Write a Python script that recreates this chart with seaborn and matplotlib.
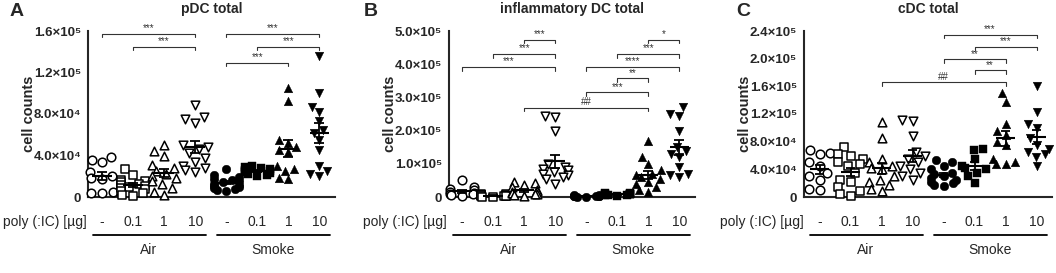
import warnings

import matplotlib

matplotlib.use("Agg")
import matplotlib.pyplot as plt
import matplotlib.transforms as mtransforms
import numpy as np
import pandas as pd
import seaborn as sns

warnings.filterwarnings("ignore")

DOSES = ["-", "0.1", "1", "10"]
EXPOSURES = ["Air", "Smoke"]
GROUPS = [f"{e} {d}" for e in EXPOSURES for d in DOSES]
MARKERS = ["o", "s", "^", "v", "o", "s", "^", "v"]
FILLED = [False, False, False, False, True, True, True, True]

# pDC total (cell counts), one list per group: Air -/0.1/1/10, Smoke -/0.1/1/10
PDC_VALUES = [
    [39000, 36000, 34000, 24000, 20000, 18000, 17000, 5000, 4000, 4000],
    [27000, 21000, 16000, 15000, 14000, 13000, 12000, 11000, 10000, 9000, 8000, 6000, 4000, 2000, 1000],
    [50000, 44000, 40000, 31000, 28000, 25000, 22000, 20000, 18000, 15000, 13000, 9000, 5000, 2000],
    [89000, 77000, 75000, 71000, 50000, 48000, 46000, 42000, 38000, 34000, 30000, 28000, 26000, 24000],
    [27000, 21000, 19000, 17000, 16000, 15000, 14000, 13000, 12000, 11000, 10000, 9000, 8000, 7000, 6000],
    [30000, 29000, 28000, 27000, 26000, 25000, 25000, 24000, 23000, 22000, 21000, 20000],
    [105000, 93000, 55000, 52000, 48000, 45000, 43000, 30000, 27000, 25000, 18000, 17000],
    [136000, 100000, 87000, 82000, 73000, 65000, 62000, 55000, 45000, 30000, 25000, 22000, 20000],
]

# inflammatory DC total
IDC_VALUES = [
    [50000, 30000, 25000, 20000, 15000, 12000, 10000, 8000, 5000, 3000],
    [9000, 8000, 7000, 6000, 5000, 5000, 4000, 3000, 2000, 2000, 1000, 500],
    [45000, 42000, 35000, 30000, 22000, 18000, 15000, 12000, 10000, 8000, 6000, 4000],
    [245000, 240000, 200000, 100000, 90000, 85000, 80000, 75000, 70000, 65000, 60000, 55000, 40000],
    [6000, 5000, 4000, 3000, 3000, 2000, 2000, 1000, 1000],
    [12000, 11000, 10000, 9000, 8000, 8000, 7000, 6000, 5000, 4000],
    [170000, 120000, 100000, 80000, 70000, 65000, 60000, 55000, 45000, 40000, 30000, 20000, 15000],
    [270000, 250000, 245000, 200000, 150000, 140000, 130000, 120000, 90000, 70000, 65000, 60000],
]

# cDC total
CDC_VALUES = [
    [68000, 64000, 62000, 50000, 45000, 35000, 30000, 25000, 12000, 10000],
    [72000, 62000, 60000, 55000, 50000, 48000, 45000, 35000, 25000, 22000, 15000, 8000, 5000, 2000],
    [108000, 85000, 55000, 50000, 45000, 42000, 40000, 30000, 25000, 22000, 18000, 12000, 8000],
    [112000, 110000, 88000, 65000, 60000, 55000, 50000, 45000, 40000, 35000, 30000, 25000],
    [53000, 50000, 45000, 40000, 35000, 33000, 30000, 28000, 25000, 22000, 20000, 18000, 16000],
    [70000, 68000, 55000, 45000, 42000, 40000, 35000, 30000, 20000],
    [150000, 138000, 105000, 95000, 90000, 80000, 75000, 55000, 50000, 48000, 48000],
    [160000, 123000, 105000, 100000, 85000, 75000, 70000, 65000, 62000, 58000, 45000],
]

PDC_TICKS = [0, 40000, 80000, 120000, 160000]
PDC_TICKLABELS = ["0", "4.0×10⁴", "8.0×10⁴", "1.2×10⁵", "1.6×10⁵"]
IDC_TICKS = [0, 100000, 200000, 300000, 400000, 500000]
IDC_TICKLABELS = ["0", "1.0×10⁵", "2.0×10⁵", "3.0×10⁵", "4.0×10⁵", "5.0×10⁵"]
CDC_TICKS = [0, 40000, 80000, 120000, 160000, 200000, 240000]
CDC_TICKLABELS = ["0", "4.0×10⁴", "8.0×10⁴", "1.2×10⁵", "1.6×10⁵", "2.0×10⁵", "2.4×10⁵"]

# significance brackets: (group from, group to, height, label)
PDC_SIG = [(0, 3, 157000, "***"), (1, 3, 145000, "***"),
           (4, 7, 157000, "***"), (5, 7, 145000, "***"), (4, 6, 129000, "***")]
IDC_SIG = [(2, 3, 473000, "***"), (1, 3, 430000, "***"), (0, 3, 391000, "***"),
           (6, 7, 473000, "*"), (5, 7, 430000, "***"), (4, 7, 391000, "****"),
           (5, 6, 357000, "**"), (4, 6, 315000, "***"), (2, 6, 269000, "##")]
CDC_SIG = [(4, 7, 234000, "***"), (5, 7, 217000, "***"), (4, 6, 199000, "**"),
           (5, 6, 183000, "**"), (2, 6, 166000, "##")]

FIG_W, FIG_H = 1056, 273
AX_TOP, AX_BOTTOM = 31, 197


def draw_panel(fig, left_px, right_px, x_left, values, ticks, ticklabels, sig, title, letter, letter_x):
    ax_h = AX_BOTTOM - AX_TOP
    ax_w = right_px - left_px
    ax = fig.add_axes([left_px / FIG_W, 1 - AX_BOTTOM / FIG_H,
                       ax_w / FIG_W, ax_h / FIG_H])

    df = pd.DataFrame({
        "group": [g for g, v in zip(GROUPS, values) for _ in v],
        "count": [x for v in values for x in v],
    })

    for i, g in enumerate(GROUPS):
        sub = df[df["group"] == g]
        n_before = len(ax.collections)
        if FILLED[i]:
            sns.swarmplot(data=sub, x="group", y="count", order=GROUPS, ax=ax,
                          marker=MARKERS[i], size=6.2, color="black",
                          edgecolor="black", linewidth=0.3)
        else:
            sns.swarmplot(data=sub, x="group", y="count", order=GROUPS, ax=ax,
                          marker=MARKERS[i], size=6.2, color="white",
                          edgecolor="black", linewidth=1.1)
        for coll in ax.collections[n_before:]:
            if not FILLED[i]:
                coll.set_facecolor("white")
                coll.set_edgecolor("black")
                coll.set_linewidth(1.1)
            coll.set_clip_on(False)
            coll.set_zorder(3)

        v = np.array(values[i], dtype=float)
        m = v.mean()
        sem = v.std(ddof=1) / np.sqrt(len(v))
        ax.hlines(m, i - 0.32, i + 0.32, color="black", lw=1.5, zorder=5)
        ax.vlines(i, m - sem, m + sem, color="black", lw=1.3, zorder=5)
        ax.hlines([m - sem, m + sem], i - 0.16, i + 0.16, color="black", lw=1.3, zorder=5)

    ymax = ticks[-1]
    tick_d = ymax * 0.02
    for a, b, y, label in sig:
        ax.plot([a, a, b, b], [y - tick_d, y, y, y - tick_d], color="#333333",
                lw=0.8, clip_on=False, zorder=4)
        ax.text((a + b) / 2, y + ymax * 0.004, label, ha="center", va="bottom",
                fontsize=7, color="#333333")

    ax.set_xlim(x_left, 7.5)
    ax.set_ylim(0, ymax)
    ax.set_yticks(ticks)
    ax.set_yticklabels(ticklabels, fontweight="bold", fontsize=9.5)
    ax.set_xticks(range(len(GROUPS)))
    ax.set_xticklabels(DOSES * 2, fontsize=10)
    ax.set_xlabel("")
    ax.set_ylabel("cell counts", fontweight="bold", fontsize=10.5)
    ax.yaxis.set_label_coords(-52 / ax_w, 0.5)
    ax.tick_params(axis="x", length=3, width=1.2, pad=10)
    ax.tick_params(axis="y", length=3, width=1.2, pad=2)
    sns.despine(ax=ax)
    for side in ["left", "bottom"]:
        ax.spines[side].set_linewidth(1.5)

    trans = mtransforms.blended_transform_factory(ax.transData, ax.transAxes)
    ax.text(-0.5, -25 / ax_h, "poly (:IC) [µg]", transform=trans, ha="right",
            va="center", fontsize=10)
    for k, name in enumerate(EXPOSURES):
        x0, x1 = 4 * k - 0.3, 4 * k + 3.35
        ax.plot([x0, x1], [-38 / ax_h] * 2, transform=trans, color="black",
                lw=1.3, clip_on=False)
        ax.text(4 * k + 1.5, -53 / ax_h, name, transform=trans, ha="center",
                va="center", fontsize=10)

    ax.text(0.5, 1 + 22 / ax_h, title, transform=ax.transAxes, ha="center",
            va="center", fontsize=10, fontweight="bold")
    fig.text(letter_x / FIG_W, 1 - 11 / FIG_H, letter, ha="left", va="center",
             fontsize=14, fontweight="bold")
    return ax


def main():
    sns.set_style("white")
    plt.rcParams["font.family"] = ["Liberation Sans", "DejaVu Sans"]

    fig = plt.figure(figsize=(FIG_W / 100, FIG_H / 100), dpi=100)
    draw_panel(fig, 88, 335, -0.45, PDC_VALUES, PDC_TICKS, PDC_TICKLABELS,
               PDC_SIG, "pDC total", "A", 10)
    draw_panel(fig, 449, 695, -0.42, IDC_VALUES, IDC_TICKS, IDC_TICKLABELS,
               IDC_SIG, "inflammatory DC total", "B", 364)
    draw_panel(fig, 804, 1052, -0.5, CDC_VALUES, CDC_TICKS, CDC_TICKLABELS,
               CDC_SIG, "cDC total", "C", 736)
    fig.savefig("out.png", dpi=100, facecolor="white")


if __name__ == "__main__":
    main()
